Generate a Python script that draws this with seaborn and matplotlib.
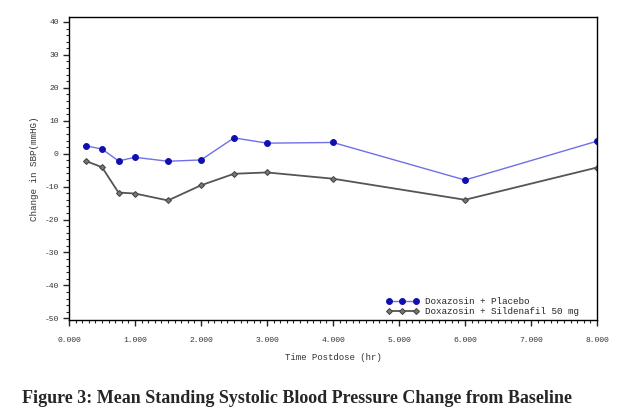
import numpy as np
import pandas as pd
import seaborn as sns
from matplotlib import pyplot as plt
from matplotlib.ticker import MultipleLocator, FormatStrFormatter

# ore dopo la dose
time_hr = [0.25, 0.5, 0.75, 1.0, 1.5, 2.0, 2.5, 3.0, 4.0, 6.0, 8.0]
# variazione media della SBP
placebo = [2.4, 1.4, -2.2, -1.1, -2.3, -1.9, 4.8, 3.2, 3.4, -8.0, 3.8]
sildenafil = [-2.2, -4.1, -11.8, -12.1, -14.2, -9.6, -6.1, -5.7, -7.6, -14.0, -4.2]
series_names = ["Doxazosin + Placebo", "Doxazosin + Sildenafil 50 mg"]

df = pd.DataFrame({
    "time": time_hr * 2,
    "sbp": placebo + sildenafil,
    "group": [series_names[0]] * len(time_hr) + [series_names[1]] * len(time_hr),
})

sns.set_style("white")
plt.rcParams["font.family"] = ["Liberation Mono", "DejaVu Sans"]

fig = plt.figure(figsize=(6.23, 4.15), dpi=100)
ax = fig.add_axes([69 / 623, 1 - 320 / 415, (597 - 69) / 623, (320 - 17) / 415])

sub = df[df.group == series_names[0]]
sns.lineplot(data=sub, x="time", y="sbp", ax=ax, color="#7070e8", lw=1.0,
             marker="o", markersize=4.2, markerfacecolor="#1010b0",
             markeredgecolor="#1010b0", label=series_names[0])
sub = df[df.group == series_names[1]]
sns.lineplot(data=sub, x="time", y="sbp", ax=ax, color="#555555", lw=1.3,
             marker="D", markersize=3, markerfacecolor="#777777",
             markeredgecolor="#444444", label=series_names[1])

ax.set_xlim(0, 8)
ax.set_ylim(-50.5, 41.5)
ax.xaxis.set_major_locator(MultipleLocator(1))
ax.xaxis.set_minor_locator(MultipleLocator(0.1))
ax.yaxis.set_major_locator(MultipleLocator(10))
ax.yaxis.set_minor_locator(MultipleLocator(2))
ax.xaxis.set_major_formatter(FormatStrFormatter("%.3f"))
ax.yaxis.set_major_formatter(FormatStrFormatter("%d"))
ax.tick_params(axis="both", which="major", direction="out", length=4, width=1,
               labelsize=5.8, labelcolor="#333333", left=True, bottom=True)
ax.tick_params(axis="x", which="major", pad=8)
ax.tick_params(axis="both", which="minor", direction="out", length=2.5, width=0.8,
               left=True, bottom=True)
for s in ax.spines.values():
    s.set_color("black")
    s.set_linewidth(1.0)

ax.set_xlabel("Time Postdose (hr)", fontsize=6.5, color="#333333", labelpad=7)
ax.set_ylabel("Change in SBP(mmHG)", fontsize=6.7, color="#333333", labelpad=4)

leg = ax.legend(loc="lower left", bbox_to_anchor=(0.60, 0.012), fontsize=6.7,
                numpoints=3, handlelength=3.5, frameon=False, borderpad=0,
                labelspacing=0.1, handletextpad=0.75, borderaxespad=0.0)

fig.text(0.035, 1 - 398 / 415, "Figure 3: Mean Standing Systolic Blood Pressure Change from Baseline",
         family="Liberation Serif", fontweight="bold", fontsize=13, va="center", ha="left")

fig.savefig("out.png", dpi=100)
